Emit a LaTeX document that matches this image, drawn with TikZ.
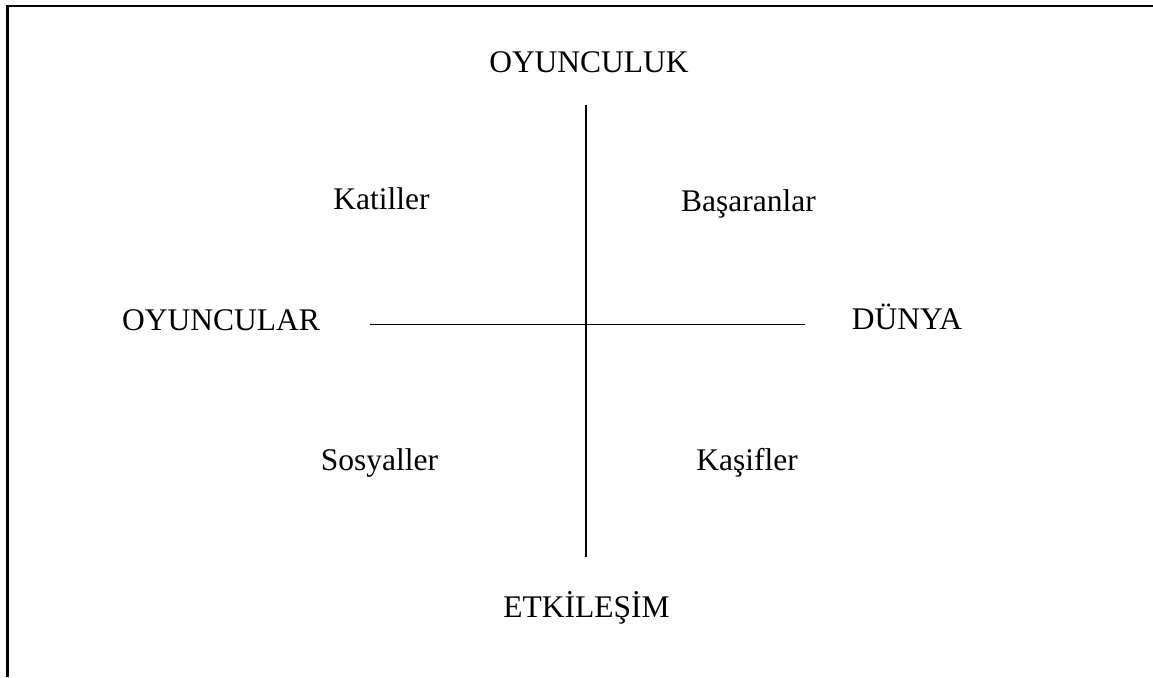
\documentclass[tikz,border=0pt]{standalone}
\usepackage{fontspec}
\setmainfont{Liberation Serif}
\begin{document}
\begin{tikzpicture}[x=1pt,y=-1pt,
  lbl/.style={anchor=base,inner sep=0pt,font=\fontsize{31.5}{36}\selectfont},
  axis/.style={line width=1.2pt,black}]
\useasboundingbox (0,0) rectangle (1153,677);
\fill[white] (0,0) rectangle (1153,677);
% frame (top and left edges)
\coordinate (fbl) at (7.5,677);
\coordinate (ftl) at (7.5,6);
\coordinate (ftr) at (1153,6);
\draw[line width=2.2pt] (fbl) -- (ftl) -- (ftr);
% axes
\coordinate (vt) at (586,105);
\coordinate (vb) at (586,557);
\coordinate (hl) at (370,324.5);
\coordinate (hr) at (805,324.5);
\draw[axis] (vt) -- (vb);
\draw[axis] (hl) -- (hr);
% labels
\node[lbl] (top) at (589,73) {OYUNCULUK};
\node[lbl] (bot) at (586.5,617) {ETK\.ILE\c{S}\.IM};
\node[lbl] (left) at (221,330) {OYUNCULAR};
\node[lbl] (right) at (907,329.5) {DÜNYA};
\node[lbl] (q1) at (381.5,209) {Katiller};
\node[lbl] (q2) at (748.5,211) {Ba\c{s}aranlar};
\node[lbl] (q3) at (379.5,470) {Sosyaller};
\node[lbl] (q4) at (747,470) {Ka\c{s}ifler};
\end{tikzpicture}
\end{document}
